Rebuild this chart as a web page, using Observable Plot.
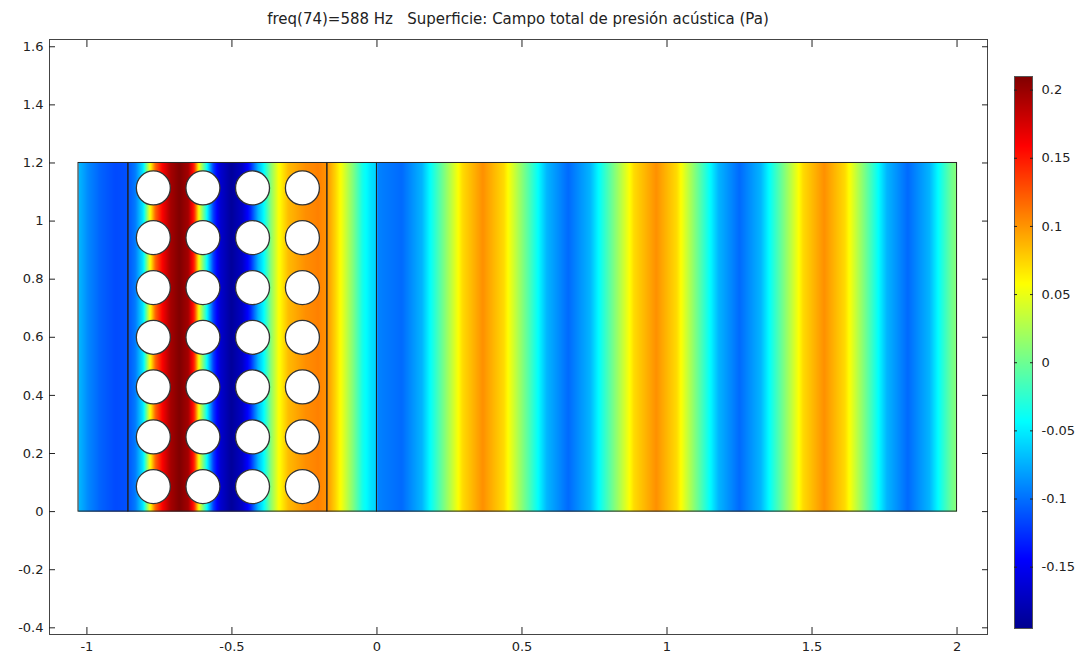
<!DOCTYPE html>
<html><head><meta charset="utf-8">
<script src="https://cdn.jsdelivr.net/npm/d3@7"></script>
<script src="https://cdn.jsdelivr.net/npm/@observablehq/plot@0.6"></script>
<style>
body{margin:0;background:#fff;}
#wrap{position:relative;width:1076px;height:661px;overflow:hidden;font-family:"DejaVu Sans",sans-serif;}
#title{position:absolute;left:49px;width:938px;top:10px;text-align:center;font-size:15px;color:#222;white-space:pre;}
#main{position:absolute;left:0;top:0;}
#cbar{position:absolute;left:1000px;top:0;}
</style></head><body>
<div id="wrap"><div id="title"></div><div id="main"></div><div id="cbar"></div></div>
<script>
const titleText = "freq(74)=588 Hz   Superficie: Campo total de presión acústica (Pa)";

// pressure profile along x, field is uniform in y
const profileX = [
  -1.029, -0.995, -0.953, -0.902, -0.860, -0.833, -0.805, -0.795, -0.784, -0.764,
  -0.740, -0.712, -0.681, -0.650, -0.629, -0.615, -0.598, -0.584, -0.564, -0.540,
  -0.502, -0.464, -0.436, -0.409, -0.391, -0.367, -0.340, -0.305, -0.247, -0.202,
  -0.171, -0.143, -0.119, -0.084, -0.050, -0.019, -0.001,
  0.001, 0.085, 0.155, 0.225, 0.295, 0.365, 0.438, 0.512, 0.586, 0.660,
  0.735, 0.810, 0.886, 0.963, 1.034, 1.105, 1.178, 1.250, 1.323, 1.396,
  1.469, 1.542, 1.614, 1.686, 1.758, 1.830, 1.905, 1.980, 2.000
];
const profileP = [
  -0.070, -0.090, -0.105, -0.115, -0.112, -0.095, -0.050, 0.000, 0.050, 0.120,
  0.160, 0.195, 0.210, 0.195, 0.140, 0.060, 0.000, -0.050, -0.120, -0.165,
  -0.190, -0.170, -0.130, -0.070, -0.045, 0.010, 0.055, 0.085, 0.102, 0.108,
  0.100, 0.075, 0.050, 0.010, -0.035, -0.055, -0.060,
  -0.092, -0.102, -0.072, 0.000, 0.072, 0.102, 0.072, 0.000, -0.072, -0.102,
  -0.072, 0.000, 0.072, 0.102, 0.072, 0.000, -0.072, -0.102, -0.072, 0.000,
  0.072, 0.102, 0.072, 0.000, -0.072, -0.102, -0.072, 0.000, 0.012
];

// geometry
const domainY = [0, 1.2];
const regionX1 = [-1.029, -0.857, -0.171, 0];
const regionX2 = [-0.857, -0.171, 0, 2];
const holeColsX = [-0.771, -0.600, -0.429, -0.257];
const holeRowsY = [0.086, 0.257, 0.429, 0.600, 0.771, 0.943, 1.114];

// axes
const xTicks = [-1, -0.5, 0, 0.5, 1, 1.5, 2];
const yTicks = [-0.4, -0.2, 0, 0.2, 0.4, 0.6, 0.8, 1, 1.2, 1.4, 1.6];
const cbTicks = [-0.15, -0.1, -0.05, 0, 0.05, 0.1, 0.15, 0.2];
const cbDomain = [-0.195, 0.21];
const jetStops = [-0.195, -0.144, -0.043, 0.058, 0.159, 0.21];
const jetColors = ["#00008f", "#0000ff", "#00ffff", "#ffff00", "#ff0000", "#800000"];

document.getElementById("title").textContent = titleText;

const fieldPts = [];
profileX.forEach((x, i) => {
  fieldPts.push({x, y: domainY[0], p: profileP[i]});
  fieldPts.push({x, y: domainY[1], p: profileP[i]});
});
const regions = regionX1.map((x1, i) => ({x1, x2: regionX2[i], y1: domainY[0], y2: domainY[1]}));
const holes = [];
holeColsX.forEach(x => holeRowsY.forEach(y => holes.push({x, y})));

const colorScale = {type: "linear", domain: jetStops, range: jetColors, interpolate: "rgb", clamp: true};
const fmt = d => String(d);
const blank = () => "";

const main = Plot.plot({
  width: 1000, height: 661,
  marginLeft: 49, marginRight: 13, marginTop: 39, marginBottom: 27,
  x: {domain: [-1.129, 2.105]},
  y: {domain: [-0.423, 1.625]},
  color: colorScale,
  style: {fontFamily: "DejaVu Sans", fontSize: "13px", color: "#222", background: "transparent"},
  marks: [
    Plot.raster(fieldPts, {x: "x", y: "y", fill: "p", interpolate: "barycentric",
      x1: regionX1[0], x2: regionX2[regionX2.length - 1], y1: domainY[0], y2: domainY[1]}),
    Plot.rect(regions, {x1: "x1", x2: "x2", y1: "y1", y2: "y2", stroke: "#222", strokeWidth: 1, fill: "none"}),
    Plot.dot(holes, {x: "x", y: "y", r: 17, fill: "white", stroke: "#333", strokeWidth: 1.3}),
    Plot.frame({stroke: "#444"}),
    Plot.axisX({anchor: "bottom", ticks: xTicks, tickSize: -7, tickPadding: 14, tickFormat: fmt}),
    Plot.axisX({anchor: "top", ticks: xTicks, tickSize: -7, tickFormat: blank}),
    Plot.axisY({anchor: "left", ticks: yTicks, tickSize: -6, tickPadding: 12, tickFormat: fmt}),
    Plot.axisY({anchor: "right", ticks: yTicks, tickSize: -6, tickFormat: blank})
  ]
});
document.getElementById("main").appendChild(main);

const cb = Plot.plot({
  width: 76, height: 661,
  marginLeft: 14, marginRight: 44, marginTop: 76, marginBottom: 33,
  x: {domain: [0, 1], axis: null},
  y: {domain: cbDomain, axis: null},
  color: colorScale,
  style: {fontFamily: "DejaVu Sans", fontSize: "13px", color: "#222", background: "transparent"},
  marks: [
    Plot.raster({fill: (x, y) => y, x1: 0, x2: 1, y1: cbDomain[0], y2: cbDomain[1]}),
    Plot.frame({stroke: "#555"}),
    Plot.axisY({anchor: "right", ticks: cbTicks, tickSize: 0, tickPadding: 9, tickFormat: fmt}),
    Plot.axisY({anchor: "left", ticks: cbTicks, tickSize: -3, tickFormat: blank}),
    Plot.axisY({anchor: "right", ticks: cbTicks, tickSize: -3, tickFormat: blank})
  ]
});
document.getElementById("cbar").appendChild(cb);
</script>
</body></html>
